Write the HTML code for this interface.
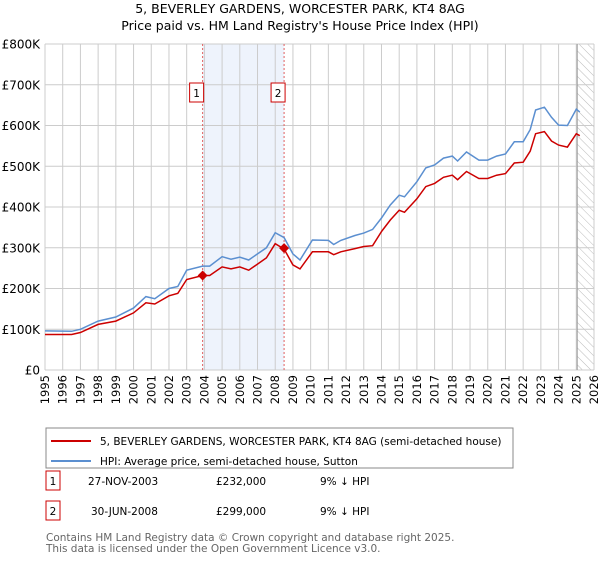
<!DOCTYPE html>
<html><head><meta charset="utf-8"><style>
body{margin:0;background:#fff;font-family:"DejaVu Sans","Liberation Sans",sans-serif;}
svg text{font-family:"DejaVu Sans","Liberation Sans",sans-serif;}
</style></head><body>
<svg id="c" width="600" height="560" viewBox="0 0 600 560" xmlns="http://www.w3.org/2000/svg">
<defs><pattern id="hatch" width="6" height="6" patternUnits="userSpaceOnUse" patternTransform="rotate(-45)"><line x1="0" y1="0" x2="0" y2="6" stroke="#bbb" stroke-width="1"/></pattern></defs>
<text x="300" y="13" text-anchor="middle" font-size="12.5" fill="#000">5, BEVERLEY GARDENS, WORCESTER PARK, KT4 8AG</text>
<text x="300" y="30" text-anchor="middle" font-size="12.5" fill="#000">Price paid vs. HM Land Registry's House Price Index (HPI)</text>
<g id="plot"></g>
<rect x="46" y="428" width="467" height="40" fill="#fff" stroke="#888"/>
<line x1="51" y1="441" x2="91" y2="441" stroke="#cc0000" stroke-width="2"/>
<text x="100" y="445" font-size="10.5">5, BEVERLEY GARDENS, WORCESTER PARK, KT4 8AG (semi-detached house)</text>
<line x1="51" y1="461" x2="91" y2="461" stroke="#5b8fd0" stroke-width="2"/>
<text x="100" y="465" font-size="10.5">HPI: Average price, semi-detached house, Sutton</text>
<g>
<rect x="46" y="471" width="14" height="19" fill="#fff" stroke="#cc0000"/>
<text x="53" y="485" text-anchor="middle" font-size="10.5">1</text>
<text x="88" y="485" font-size="10.5">27-NOV-2003</text>
<text x="216" y="485" font-size="10.5">£232,000</text>
<text x="320" y="485" font-size="10.5">9% ↓ HPI</text></g>
<g>
<rect x="46" y="501" width="14" height="19" fill="#fff" stroke="#cc0000"/>
<text x="53" y="515" text-anchor="middle" font-size="10.5">2</text>
<text x="91" y="515" font-size="10.5">30-JUN-2008</text>
<text x="216" y="515" font-size="10.5">£299,000</text>
<text x="320" y="515" font-size="10.5">9% ↓ HPI</text></g>
<text x="46" y="541" font-size="10.5" fill="#666">Contains HM Land Registry data © Crown copyright and database right 2025.</text>
<text x="46" y="552" font-size="10.5" fill="#666">This data is licensed under the Open Government Licence v3.0.</text>
</svg>
<script>
const hpiYears=[1995,1996.5,1997,1998,1999,2000,2000.7,2001.2,2002,2002.5,2003,2003.9,2004.3,2005,2005.5,2006,2006.5,2007,2007.5,2008,2008.5,2009,2009.4,2010.1,2011,2011.3,2011.7,2012.5,2013,2013.5,2014,2014.5,2015,2015.3,2016,2016.5,2017,2017.5,2018,2018.3,2018.8,2019.5,2020,2020.5,2021,2021.5,2022,2022.4,2022.7,2023.2,2023.6,2024,2024.5,2025,2025.2];
const hpiValues=[96,95,100,120,130,152,180,175,200,205,245,255,255,278,272,277,270,285,300,337,325,285,270,319,318,308,318,330,336,345,373,405,429,425,462,496,503,520,525,513,535,515,515,525,530,560,560,590,638,645,620,601,600,640,633];
const redYears=hpiYears;
const redValues=[87,87,92,112,120,140,165,162,182,188,222,232,232,253,248,253,245,260,275,310,297,258,248,290,290,283,290,298,303,305,340,368,392,387,420,450,458,473,478,467,487,470,470,478,482,508,510,537,580,585,562,552,547,580,575];
const sales=[{t:2003.9,v:232,label:"1"},{t:2008.5,v:299,label:"2"}];
const yTicks=[0,100,200,300,400,500,600,700,800];
const yTickLabels=["£0","£100K","£200K","£300K","£400K","£500K","£600K","£700K","£800K"];
const xTicks=[];for(let y=1995;y<=2026;y++)xTicks.push(y);

const X0=45,X1=594,Y0=370,Y1=44;
const sx=t=>X0+(t-1995)/(2026-1995)*(X1-X0);
const sy=v=>Y0-v/800*(Y0-Y1);
const NS="http://www.w3.org/2000/svg";
const g=document.getElementById('plot');
function mk(tag,attrs){const e=document.createElementNS(NS,tag);for(const k in attrs)e.setAttribute(k,attrs[k]);g.appendChild(e);return e;}

let e=mk('rect',{x:sx(sales[0].t),y:Y1,width:sx(sales[1].t)-sx(sales[0].t),height:Y0-Y1,fill:'#eef3fc'});


e=mk('rect',{x:sx(2025.05),y:Y1,width:X1-sx(2025.05),height:Y0-Y1,fill:'url(#hatch)'});



xTicks.forEach(t=>{
 const l=mk('line',{x1:sx(t),y1:Y1,x2:sx(t),y2:Y0,stroke:'#ccc','stroke-width':1});
 
 
 const tx=mk('text',{x:0,y:0,'font-size':11.5,'text-anchor':'end',transform:`translate(${sx(t)+4},${Y0+5}) rotate(-90)`});
 tx.textContent=t;
 
 
});
yTicks.forEach((v,i)=>{
 const l=mk('line',{x1:X0,y1:sy(v),x2:X1,y2:sy(v),stroke:'#ccc','stroke-width':1});
 
 
 const tx=mk('text',{x:40,y:sy(v)+4.5,'font-size':12,'text-anchor':'end'});
 tx.textContent=yTickLabels[i];
 
 
});
e=mk('line',{x1:sx(2025.05),y1:Y1,x2:sx(2025.05),y2:Y0,stroke:'#999','stroke-width':1});



sales.forEach(s=>{
 const l=mk('line',{x1:sx(s.t),y1:Y1,x2:sx(s.t),y2:Y0,stroke:'#e06060','stroke-width':1,'stroke-dasharray':'2,2'});
 
 
});

function path(xs,vs){return xs.map((t,i)=>(i?'L':'M')+sx(t).toFixed(1)+','+sy(vs[i]).toFixed(1)).join(' ');}
e=mk('path',{d:path(hpiYears,hpiValues),fill:'none',stroke:'#5b8fd0','stroke-width':1.5});


e=mk('path',{d:path(redYears,redValues),fill:'none',stroke:'#cc0000','stroke-width':1.5});



sales.forEach(s=>{
 const x=sx(s.t),y=sy(s.v);
 const d=mk('path',{d:`M${x},${y-5}L${x+5},${y}L${x},${y+5}L${x-5},${y}Z`,fill:'#cc0000'});
 
 
 const r=mk('rect',{x:x-13,y:83,width:14,height:19,fill:'#fff',stroke:'#cc0000'});
 
 
 const t=mk('text',{x:x-6,y:97,'font-size':10.5,'text-anchor':'middle'});
 t.textContent=s.label;
 
 
});
</script>
</body></html>
